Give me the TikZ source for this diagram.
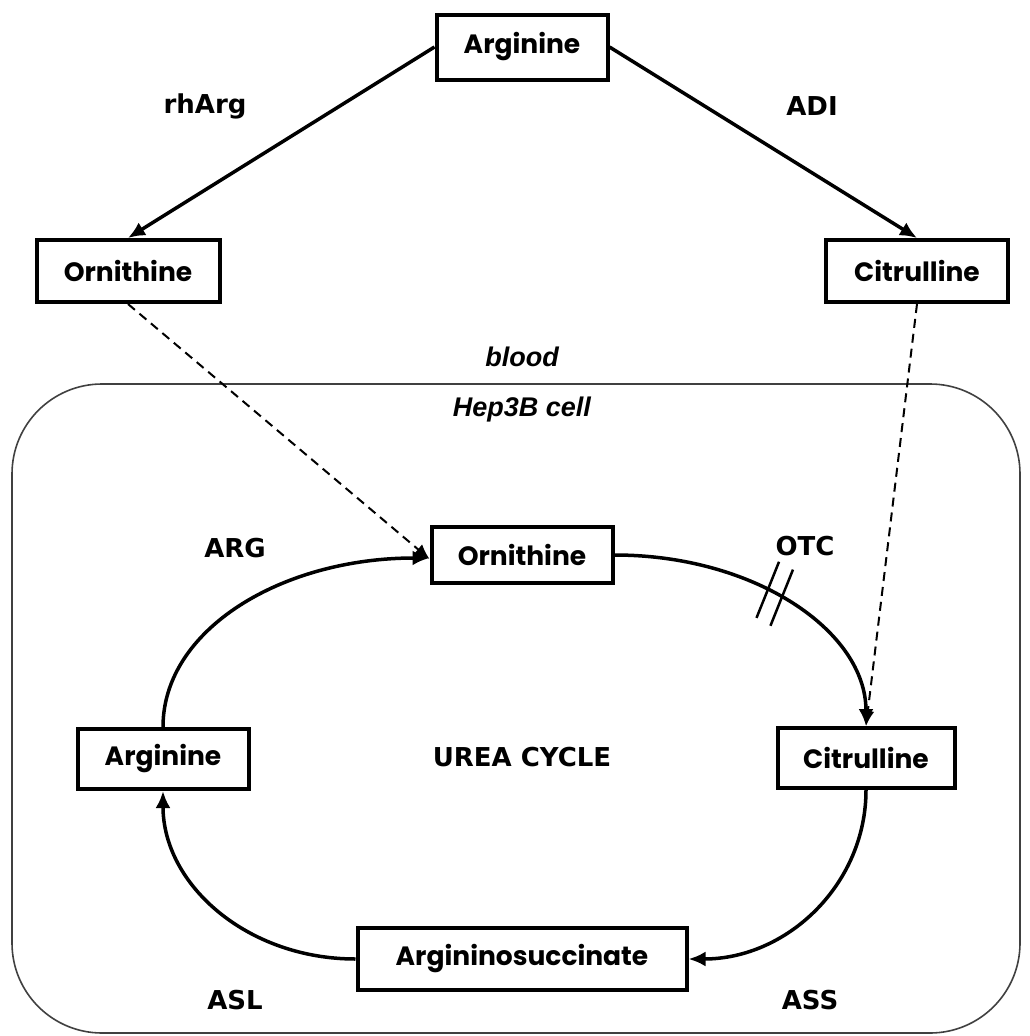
\documentclass[tikz,border=0pt]{standalone}
\usepackage{fontspec}
\newfontfamily\boxfont{Poppins}
\newfontfamily\labfont{DejaVu Sans}
\newfontfamily\arialfont{Liberation Sans}
\usetikzlibrary{arrows.meta,decorations.markings}
\tikzset{
  mol/.style={draw=black, line width=4pt, fill=white, inner sep=0pt,
    font=\boxfont\bfseries\fontsize{26.5}{30}\selectfont},
  lab/.style={font=\labfont\bfseries\fontsize{26}{30}\selectfont},
  loc/.style={font=\arialfont\bfseries\itshape\fontsize{27}{30}\selectfont},
  conv/.style={line width=3.5pt, -{Latex[length=17pt,width=15pt]}},
  transp/.style={line width=2pt, dash pattern=on 9pt off 6pt, -{Latex[length=15pt,width=13pt]}},
  cellwall/.style={draw=black!75, line width=1.6pt, rounded corners=90pt},
}
\begin{document}
\begin{tikzpicture}[x=1pt,y=-1pt]
\useasboundingbox (0,0) rectangle (1029,1036);
% cell
\draw[cellwall] (12,384) rectangle (1020,1033);
\node[loc] (blood) at (522,357) {blood};
\node[loc] (hep) at (522,410) {Hep3B cell};
% blood nodes
\node[mol, minimum width=171pt, minimum height=65pt] (argT) at (522,47) {Arginine};
\node[mol, minimum width=183pt, minimum height=62pt] (ornT) at (128,271) {Ornithine};
\node[mol, minimum width=182pt, minimum height=62pt] (citT) at (917,271) {Citrulline};
% cell nodes
\node[mol, minimum width=181pt, minimum height=56pt] (ornC) at (522,555) {Ornithine};
\node[mol, minimum width=177pt, minimum height=60pt] (citC) at (866,758) {Citrulline};
\node[mol, minimum width=171pt, minimum height=60pt] (argC) at (163,759) {Arginine};
\node[mol, minimum width=329pt, minimum height=62pt] (asc) at (522,959) {Argininosuccinate};
% labels
\node[lab] (rharg) at (205,106) {rhArg};
\node[lab] (adi) at (812,106) {ADI};
\node[lab] (argl) at (235,548) {ARG};
\node[lab] (otc) at (805,546) {OTC};
\node[lab] (asl) at (235,1000) {ASL};
\node[lab] (ass) at (810,1000) {ASS};
\node[lab] (urea) at (522,757) {UREA CYCLE};
% enzymatic conversions in blood
\draw[conv] (argT.west) -- (ornT.north);
\draw[conv] (argT.east) -- (citT.north);
% transport
\draw[transp] (ornT.south) -- ([yshift=-4pt]ornC.west);
\draw[transp] (citT.south) -- (citC.north);
% urea cycle
\draw[conv] (argC.north) .. controls ++(0,-98) and ++(-147,0) .. ([yshift=-3pt]ornC.west);
\draw[conv, postaction={decorate}, decoration={markings,
    mark=at position 0.5 with {\draw[-, line width=2.5pt] (-13,-30) -- (-5,30); \draw[-, line width=2.5pt] (3,-30) -- (11,30);}}]
  (ornC.east) .. controls ++(140,0) and ++(0,-95) .. (citC.north);
\draw[conv] (citC.south) .. controls ++(0,94) and ++(99,0) .. (asc.east);
\draw[conv] (asc.west) .. controls ++(-108,0) and ++(0,94) .. (argC.south);
\end{tikzpicture}
\end{document}
